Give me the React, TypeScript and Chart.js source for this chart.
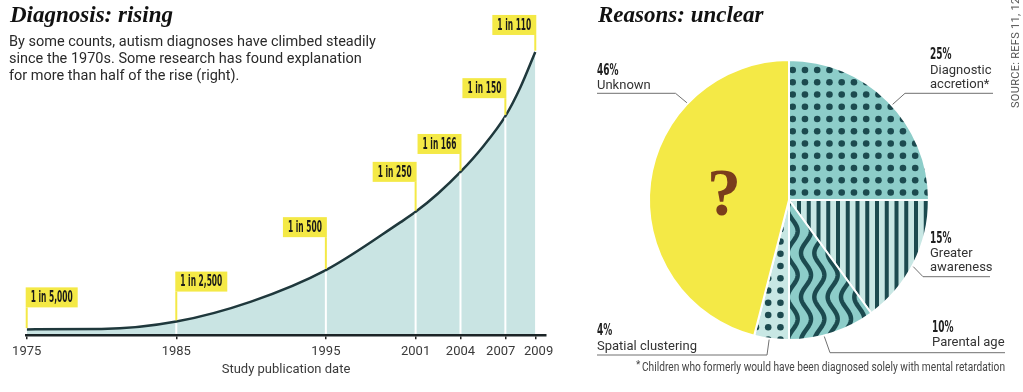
import React, { useEffect, useRef } from "react";
import { Chart, registerables } from "chart.js";

Chart.register(...registerables);

// ---------- data ----------
const studyYears = [1975, 1985, 1995, 2001, 2004, 2007, 2009];
const prevalenceLabels = ["1 in 5,000", "1 in 2,500", "1 in 500", "1 in 250", "1 in 166", "1 in 150", "1 in 110"];
// trend curve as drawn (cases per 1,000 children)
const curveYears = [1975, 1980, 1985, 1990, 1995, 2000, 2001, 2002.5, 2004, 2005.5, 2007, 2008, 2009];
const curveValues = [0.19, 0.2, 0.44, 1.08, 2.09, 3.63, 3.96, 4.55, 5.24, 6.05, 7.03, 7.95, 9.09];

const reasonNames = ["Diagnostic accretion*", "Greater awareness", "Parental age", "Spatial clustering", "Unknown"];
const reasonShares = [25, 15, 10, 4, 46];
const reasonLabelLines = [["Diagnostic", "accretion*"], ["Greater", "awareness"], ["Parental age"], ["Spatial clustering"], ["Unknown"]];

// ---------- styles / layout ----------
const SANS = "Roboto, 'Open Sans', 'DejaVu Sans', sans-serif";
const COND = "'Liberation Sans Narrow', 'DejaVu Sans Condensed', 'Liberation Sans', sans-serif";
const SERIF = "'Liberation Serif', 'Times New Roman', serif";
const YELLOW = "#f4e946";
const DARK = "#1c4a4f";
const MID = "#8dcdc9";
const LIGHT = "#c8e7e4";
const AREA = "#c9e4e3";
const CURVE = "#1f383c";

const STEM_GAPS = [22, 30, 33, 30, 18, 18, 17];
const BOX_SIDE = ["right", "right", "left", "left", "left", "left", "left"];
// small nudges of crowded tick labels (spaces added around the text)
const TICK_PAD_BEFORE: Record<number, string> = { 2009: "\u2002" };
const TICK_PAD_AFTER: Record<number, string> = { 2007: "\u2002\u2009" };

// pie annotation layout (pie-canvas coordinates)
const NOTES = [
  { angle: 47.3, elbow: [345, 93.3], end: 433, x: 370, pctY: 59, lineY: [73.5, 88.3] },
  { angle: 118.2, elbow: [363, 276.7], end: 430, x: 370, pctY: 243, lineY: [257, 271] },
  { angle: 165.5, elbow: [270, 352.7], end: 445, x: 372, pctY: 332, lineY: [346] },
  { angle: 188.1, elbow: [207, 355], end: 37, x: 37, pctY: 335, lineY: [350] },
  { angle: 313.6, elbow: [115.5, 93.3], end: 37, x: 37, pctY: 75, lineY: [89.3] },
];

function makeDots(bg: string, fg: string) {
  const step = 12.25;
  const size = 49;
  const c = document.createElement("canvas");
  c.width = size; c.height = size;
  const g = c.getContext("2d")!;
  g.fillStyle = bg; g.fillRect(0, 0, size, size);
  g.fillStyle = fg;
  const ox = 232.7 % step, oy = 70 % step;
  for (let a = -1; a <= 4; a++) {
    for (let b = -1; b <= 4; b++) {
      g.beginPath();
      g.arc(ox + a * step, oy + b * step, 3.3, 0, Math.PI * 2);
      g.fill();
    }
  }
  return g.createPattern(c, "repeat")!;
}

function makeStripes(bg: string, fg: string) {
  const step = 9.75;
  const w = 39, h = 4;
  const c = document.createElement("canvas");
  c.width = w; c.height = h;
  const g = c.getContext("2d")!;
  g.fillStyle = bg; g.fillRect(0, 0, w, h);
  g.fillStyle = fg;
  const ox = 239 % step;
  for (let a = -1; a <= 4; a++) {
    g.fillRect(ox + a * step - 2, 0, 4, h);
  }
  return g.createPattern(c, "repeat")!;
}

function makeWaves(bg: string, fg: string) {
  const w = 40, h = 44;
  const c = document.createElement("canvas");
  c.width = w; c.height = h;
  const g = c.getContext("2d")!;
  g.fillStyle = bg; g.fillRect(0, 0, w, h);
  g.strokeStyle = fg; g.lineWidth = 4.5;
  for (let k = -1; k <= 3; k++) {
    const x0 = k * (w / 3) + 6;
    g.beginPath();
    for (let y = -4; y <= h + 4; y += 0.5) {
      const x = x0 + 5 * Math.sin((2 * Math.PI * y) / h);
      if (y === -4) g.moveTo(x, y); else g.lineTo(x, y);
    }
    g.stroke();
  }
  return g.createPattern(c, "repeat")!;
}

const stemPlugin = {
  id: "stems",
  afterDatasetsDraw(chart: any) {
    const ctx = chart.ctx as CanvasRenderingContext2D;
    const xs = chart.scales.x;
    const meta = chart.getDatasetMeta(0);
    const area = chart.chartArea;
    ctx.save();
    ctx.font = `bold 16px ${COND}`;
    const sx = 42 / ctx.measureText(prevalenceLabels[0]).width;
    studyYears.forEach((yr, i) => {
      const px = xs.getPixelForValue(yr);
      const j = curveYears.indexOf(yr);
      const py = meta.data[j].y;
      if (i > 0 && i < studyYears.length - 1) {
        ctx.strokeStyle = "#ffffff";
        ctx.lineWidth = 2;
        ctx.beginPath();
        ctx.moveTo(px, area.bottom - 1.5);
        ctx.lineTo(px, py + 1.5);
        ctx.stroke();
      }
      const boxBottom = py - STEM_GAPS[i];
      ctx.strokeStyle = YELLOW;
      ctx.lineWidth = 2;
      ctx.beginPath();
      ctx.moveTo(px, py - 1.3);
      ctx.lineTo(px, boxBottom);
      ctx.stroke();
      const tw = ctx.measureText(prevalenceLabels[i]).width * sx;
      const pad = 5;
      const bw = tw + pad * 2;
      const bx = BOX_SIDE[i] === "right" ? px - 1 : px - bw + 1;
      ctx.fillStyle = YELLOW;
      ctx.fillRect(bx, boxBottom - 20, bw, 20);
      ctx.fillStyle = "#1a1a1a";
      ctx.textBaseline = "middle";
      ctx.textAlign = "left";
      ctx.save();
      ctx.translate(bx + pad, boxBottom - 9.5);
      ctx.scale(sx, 1);
      ctx.fillText(prevalenceLabels[i], 0, 0);
      ctx.restore();
    });
    ctx.restore();
  },
};

const pieNotesPlugin = {
  id: "pieNotes",
  afterDatasetsDraw(chart: any) {
    const ctx = chart.ctx as CanvasRenderingContext2D;
    const meta = chart.getDatasetMeta(0);
    const arc0: any = meta.data[0];
    const cx = arc0.x, cy = arc0.y, r = arc0.outerRadius;
    ctx.save();
    ctx.fillStyle = "#7a3d1c";
    ctx.font = `bold 68px ${SERIF}`;
    ctx.textAlign = "center";
    ctx.textBaseline = "alphabetic";
    ctx.fillText("?", cx - 65, cy + 15);

    ctx.font = `bold 15px ${COND}`;
    const psx = 21.5 / ctx.measureText("46%").width;
    NOTES.forEach((n, i) => {
      const a = (n.angle * Math.PI) / 180;
      const ax = cx + (r + 1) * Math.sin(a);
      const ay = cy - (r + 1) * Math.cos(a);
      ctx.strokeStyle = "#707070";
      ctx.lineWidth = 1;
      ctx.beginPath();
      ctx.moveTo(ax, ay);
      ctx.lineTo(n.elbow[0], n.elbow[1]);
      ctx.lineTo(n.end, n.elbow[1]);
      ctx.stroke();
      ctx.textAlign = "left";
      ctx.textBaseline = "alphabetic";
      ctx.fillStyle = "#1e1e1e";
      ctx.font = `bold 15px ${COND}`;
      ctx.save();
      ctx.translate(n.x, n.pctY);
      ctx.scale(psx, 1);
      ctx.fillText(reasonShares[i] + "%", 0, 0);
      ctx.restore();
      ctx.font = `13px ${SANS}`;
      ctx.fillStyle = "#333";
      reasonLabelLines[i].forEach((line, k) => ctx.fillText(line, n.x, n.lineY[k]));
    });

    // footnote
    ctx.fillStyle = "#444";
    ctx.font = `10px ${SANS}`;
    ctx.fillText("*", 76, 368);
    ctx.font = `12px ${SANS}`;
    ctx.fillText("Children who formerly would have been diagnosed solely with mental retardation", 82, 371, 363);
    ctx.restore();
  },
};

export default function App() {
  const leftRef = useRef<HTMLCanvasElement>(null);
  const rightRef = useRef<HTMLCanvasElement>(null);

  useEffect(() => {
    document.body.style.margin = "0";
    const left = new Chart(leftRef.current!, {
      type: "line",
      data: {
        datasets: [
          {
            data: curveYears.map((x, i) => ({ x, y: curveValues[i] })),
            borderColor: CURVE,
            borderWidth: 2.5,
            backgroundColor: AREA,
            fill: "origin",
            pointRadius: 0,
            cubicInterpolationMode: "monotone",
          } as any,
        ],
      },
      options: {
        responsive: false,
        animation: false,
        devicePixelRatio: 1,
        events: [],
        layout: { padding: { left: 26.7, right: 14.7, top: 8, bottom: 0 } },
        plugins: { legend: { display: false }, tooltip: { enabled: false } },
        scales: {
          x: {
            type: "linear",
            min: 1975,
            max: 2009.67,
            afterBuildTicks: (s: any) => {
              s.ticks = studyYears.map((v) => ({ value: v }));
            },
            afterFit: (s: any) => {
              s.height = 56.7;
            },
            ticks: {
              font: { family: SANS, size: 13 },
              color: "#3a3a3a",
              padding: 5,
              maxRotation: 0,
              autoSkip: false,
              callback: (v: any) => (TICK_PAD_BEFORE[v] || "") + String(v) + (TICK_PAD_AFTER[v] || ""),
            },
            grid: { drawOnChartArea: false, drawTicks: true, tickLength: 4, color: "#222", lineWidth: 1.5 },
            border: { display: true, color: "#1b2426", width: 2.5, z: 1 },
            title: {
              display: true,
              text: "Study publication date",
              font: { family: SANS, size: 13 },
              color: "#3a3a3a",
              padding: { top: 0, bottom: 14.2 },
            },
          } as any,
          y: { display: false, min: 0, max: 10.5 },
        },
      },
      plugins: [stemPlugin],
    });

    const right = new Chart(rightRef.current!, {
      type: "pie",
      data: {
        labels: reasonNames,
        datasets: [
          {
            data: reasonShares,
            backgroundColor: [
              makeDots(MID, DARK),
              makeStripes(LIGHT, DARK),
              makeWaves(MID, DARK),
              makeDots(LIGHT, DARK),
              YELLOW,
            ],
            borderColor: "#ffffff",
            borderWidth: 2,
            hoverOffset: 0,
            offset: 0,
          } as any,
        ],
      },
      options: {
        responsive: false,
        animation: false,
        devicePixelRatio: 1,
        events: [],
        layout: { padding: { left: 88, top: 59, right: 93, bottom: 51 } },
        plugins: { legend: { display: false }, tooltip: { enabled: false } },
      },
      plugins: [pieNotesPlugin],
    });

    return () => {
      left.destroy();
      right.destroy();
    };
  }, []);

  const abs: React.CSSProperties = { position: "absolute", whiteSpace: "nowrap", pointerEvents: "none" };

  return (
    <div style={{ position: "absolute", left: 0, top: 0, width: 1023, height: 392, background: "#fff", overflow: "hidden" }}>
      <canvas ref={leftRef} width={560} height={392} style={{ position: "absolute", left: 0, top: 0 }} />
      <canvas ref={rightRef} width={463} height={392} style={{ position: "absolute", left: 560, top: 0 }} />
      <div style={{ ...abs, left: 10, top: 3.4, font: `italic bold 23px ${SERIF}`, lineHeight: "23px", color: "#111" }}>
        Diagnosis: rising
      </div>
      <div style={{ ...abs, left: 9, top: 34.4, fontFamily: SANS, fontSize: 14.5, lineHeight: "16.7px", color: "#2a2a2a" }}>
        By some counts, autism diagnoses have climbed steadily
        <br />
        since the 1970s. Some research has found explanation
        <br />
        for more than half of the rise (right).
      </div>
      <div style={{ ...abs, left: 598, top: 3.4, font: `italic bold 23px ${SERIF}`, lineHeight: "23px", color: "#111" }}>
        Reasons: unclear
      </div>
      <div
        style={{
          ...abs,
          left: 1010,
          top: 108,
          transform: "rotate(-90deg)",
          transformOrigin: "0 0",
          fontFamily: SANS,
          fontSize: 11,
          lineHeight: "12px",
          color: "#555",
          letterSpacing: 0.3,
        }}
      >
        SOURCE: REFS 11, 12
      </div>
    </div>
  );
}
